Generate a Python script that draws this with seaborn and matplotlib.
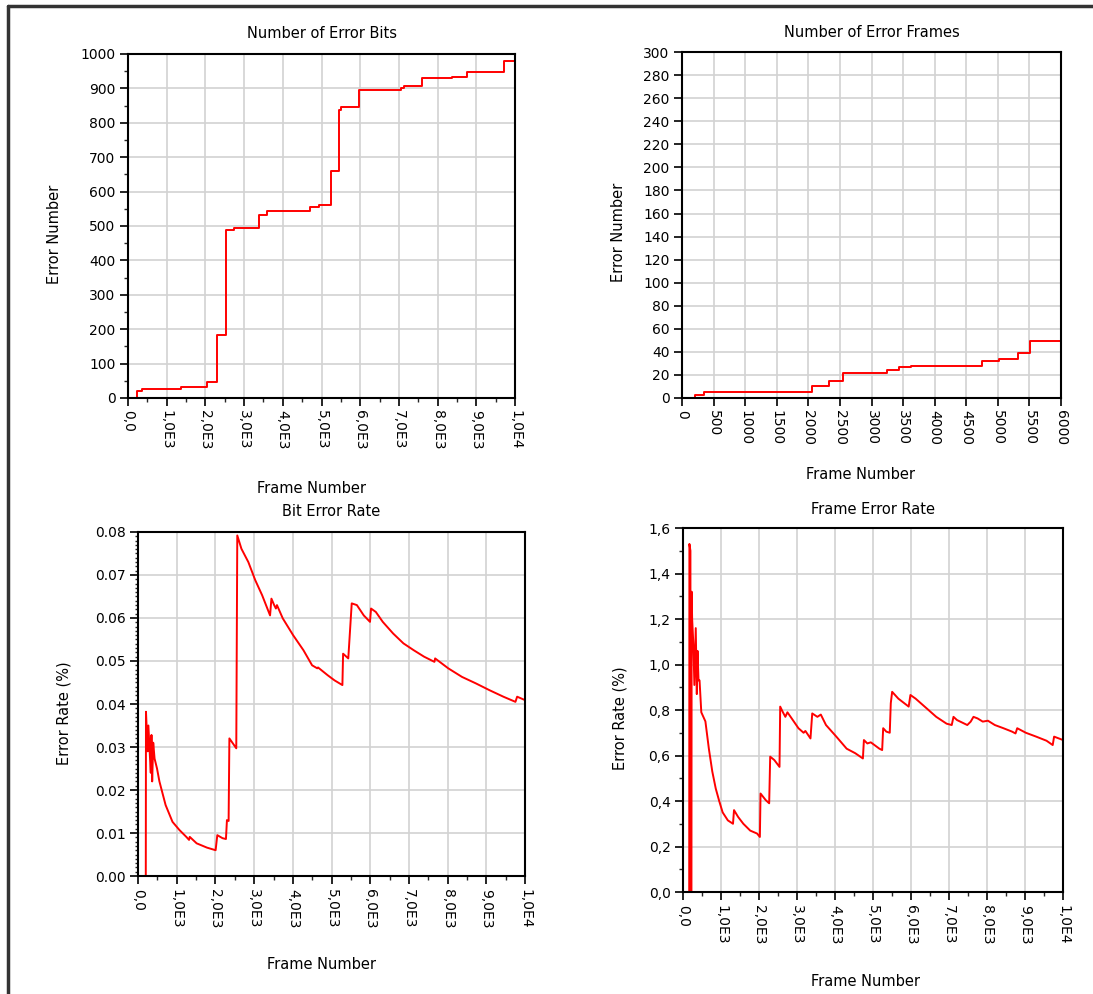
import matplotlib
matplotlib.use("Agg")
import matplotlib.pyplot as plt
import seaborn as sns
from matplotlib.lines import Line2D
from matplotlib.ticker import FixedLocator, FixedFormatter, MultipleLocator

# Data
# cumulative error bits (step curve)
bits_frame = [0, 220, 350, 1365, 2030, 2310, 2540, 2730, 3390, 3590, 4710, 4930,
              5240, 5445, 5500, 5965, 7050, 7140, 7600, 8370, 8770, 9710, 9970]
bits_count = [0, 19, 26, 31, 46, 184, 488, 493, 533, 544, 556, 562,
              659, 836, 845, 896, 901, 907, 929, 934, 949, 981, 981]

# cumulative error frames (step curve)
frames_frame = [0, 212, 350, 2050, 2330, 2555, 3250, 3435, 3630, 4755, 5010, 5315, 5510, 6000]
frames_count = [0, 3, 5, 10, 15, 22, 24, 27, 28, 32, 34, 39, 49, 49]

# bit error rate (%)
ber_frame = [0, 200, 205, 249, 267, 303, 329, 347, 365, 392, 427, 490, 552, 712, 890,
             1069, 1247, 1318, 1336, 1514, 1781, 2004, 2048, 2182, 2271, 2297, 2340,
             2360, 2538, 2564, 2671, 2850, 3028, 3206, 3411, 3446, 3517, 3562, 3589,
             3740, 4007, 4274, 4497, 4630, 4650, 4898, 5076, 5280, 5298, 5432, 5521,
             5654, 5832, 5993, 6020, 6144, 6323, 6590, 6857, 7124, 7391, 7658, 7676,
             8014, 8370, 8727, 9083, 9439, 9751, 9795, 10000]
ber_rate = [0, 0, 0.0382, 0.029, 0.035, 0.0285, 0.024, 0.0328, 0.022, 0.031, 0.0273,
            0.025, 0.022, 0.0165, 0.0126, 0.0107, 0.0091, 0.0084, 0.0091, 0.0076,
            0.0066, 0.0060, 0.0095, 0.0088, 0.0086, 0.013, 0.0128, 0.032, 0.0297,
            0.0792, 0.0761, 0.073, 0.0688, 0.0653, 0.0606, 0.0645, 0.063, 0.0622,
            0.063, 0.0599, 0.056, 0.0525, 0.049, 0.0483, 0.0485, 0.0467, 0.0455,
            0.0444, 0.0517, 0.0506, 0.0634, 0.063, 0.0606, 0.0591, 0.0622, 0.0614,
            0.0591, 0.0564, 0.0541, 0.0525, 0.051, 0.0498, 0.0506, 0.0483, 0.0463,
            0.0448, 0.0432, 0.0417, 0.0405, 0.0417, 0.0409]

# frame error rate (%)
fer_frame = [0, 163, 168, 195, 199, 222, 227, 240, 272, 299, 335, 363, 381, 408, 435,
             481, 589, 680, 770, 861, 952, 1043, 1179, 1315, 1342, 1450, 1587, 1768,
             1949, 2022, 2040, 2176, 2267, 2294, 2403, 2539, 2557, 2629, 2693, 2747,
             2856, 3037, 3173, 3220, 3354, 3400, 3536, 3626, 3762, 4034, 4306, 4533,
             4733, 4760, 4850, 4941, 5167, 5240, 5267, 5349, 5440, 5467, 5503, 5666,
             5938, 5984, 6120, 6392, 6663, 6935, 7071, 7117, 7208, 7480, 7570, 7643,
             7751, 7887, 8023, 8205, 8431, 8658, 8749, 8794, 9021, 9293, 9565, 9728,
             9764, 10000]
fer_rate = [0, 0, 1.53, 1.50, 0, 0, 1.32, 1.20, 1.09, 0.91, 1.16, 0.87, 1.06, 0.93, 0.93,
            0.79, 0.75, 0.63, 0.53, 0.455, 0.40, 0.35, 0.315, 0.30, 0.36, 0.33, 0.30, 0.27,
            0.257, 0.242, 0.433, 0.404, 0.39, 0.595, 0.58, 0.55, 0.815, 0.79, 0.77, 0.79,
            0.764, 0.72, 0.70, 0.708, 0.675, 0.785, 0.77, 0.78, 0.734, 0.683, 0.63, 0.61,
            0.587, 0.668, 0.653, 0.658, 0.63, 0.624, 0.72, 0.705, 0.70, 0.83, 0.88, 0.85,
            0.815, 0.866, 0.85, 0.81, 0.77, 0.74, 0.734, 0.77, 0.756, 0.734, 0.749, 0.77,
            0.763, 0.749, 0.753, 0.734, 0.72, 0.705, 0.697, 0.72, 0.70, 0.683, 0.665, 0.646,
            0.683, 0.668]

# tick values and labels
e4_ticks = [0, 1000, 2000, 3000, 4000, 5000, 6000, 7000, 8000, 9000, 10000]
e4_labels = ["0,0", "1,0E3", "2,0E3", "3,0E3", "4,0E3", "5,0E3",
             "6,0E3", "7,0E3", "8,0E3", "9,0E3", "1,0E4"]
frames_xticks = [0, 500, 1000, 1500, 2000, 2500, 3000, 3500, 4000, 4500, 5000, 5500, 6000]
bits_yticks = [0, 100, 200, 300, 400, 500, 600, 700, 800, 900, 1000]
frames_yticks = [0, 20, 40, 60, 80, 100, 120, 140, 160, 180, 200, 220, 240, 260, 280, 300]
ber_yticks = [0, 0.01, 0.02, 0.03, 0.04, 0.05, 0.06, 0.07, 0.08]
ber_ylabels = ["0.00", "0.01", "0.02", "0.03", "0.04", "0.05", "0.06", "0.07", "0.08"]
fer_yticks = [0, 0.2, 0.4, 0.6, 0.8, 1.0, 1.2, 1.4, 1.6]
fer_ylabels = ["0,0", "0,2", "0,4", "0,6", "0,8", "1,0", "1,2", "1,4", "1,6"]

sns.set_theme(style="white")
plt.rcParams['font.family'] = ['DejaVu Sans']
plt.rcParams['text.color'] = 'black'
plt.rcParams['axes.labelcolor'] = 'black'
plt.rcParams['axes.titlecolor'] = 'black'

fig = plt.figure(figsize=(10.93, 9.94), dpi=100)

# frame-like border on the left and top edge
fig.add_artist(Line2D([0.0073, 0.0073], [0, 0.994], color='#333333', lw=2.5))
fig.add_artist(Line2D([0.0073, 1.0], [0.994, 0.994], color='#333333', lw=2.5))

ax1 = fig.add_axes([0.1171, 0.5996, 0.3541, 0.3461])
ax2 = fig.add_axes([0.6240, 0.5996, 0.3468, 0.3480])
ax3 = fig.add_axes([0.1263, 0.1187, 0.3541, 0.3461])
ax4 = fig.add_axes([0.6249, 0.1026, 0.3477, 0.3662])

red = '#ff0000'
sns.lineplot(x=bits_frame, y=bits_count, ax=ax1, color=red, linewidth=1.4,
             estimator=None, sort=False, drawstyle='steps-post')
sns.lineplot(x=frames_frame, y=frames_count, ax=ax2, color=red, linewidth=1.4,
             estimator=None, sort=False, drawstyle='steps-post')
sns.lineplot(x=ber_frame, y=ber_rate, ax=ax3, color=red, linewidth=1.4,
             estimator=None, sort=False)
sns.lineplot(x=fer_frame, y=fer_rate, ax=ax4, color=red, linewidth=1.4,
             estimator=None, sort=False)


def style_axes(ax, title, ylabel, pad, xlab_pos, ylab_pos):
    ax.set_title(title, fontsize=10.5, pad=pad)
    ax.set_xlabel("Frame Number", fontsize=10.5)
    ax.set_ylabel(ylabel, fontsize=10.5)
    ax.xaxis.set_label_coords(*xlab_pos)
    ax.yaxis.set_label_coords(*ylab_pos)
    ax.grid(True, which='major', color='#d2d2d2', linewidth=1.2)
    ax.set_axisbelow(True)
    for s in ax.spines.values():
        s.set_color('black')
        s.set_linewidth(1.5)
    ax.tick_params(which='major', direction='out', length=6, width=1.2,
                   labelsize=10, pad=3, colors='black', left=True, bottom=True)
    ax.tick_params(which='minor', direction='out', length=3, width=1.0,
                   left=True, bottom=True)
    for lab in ax.get_xticklabels():
        lab.set_rotation(270)


# Number of Error Bits
ax1.set_xlim(0, 10000)
ax1.set_ylim(0, 1000)
ax1.xaxis.set_major_locator(FixedLocator(e4_ticks))
ax1.xaxis.set_major_formatter(FixedFormatter(e4_labels))
ax1.xaxis.set_minor_locator(MultipleLocator(500))
ax1.set_yticks(bits_yticks)
ax1.yaxis.set_minor_locator(MultipleLocator(50))
style_axes(ax1, "Number of Error Bits", "Error Number", 11.5, (0.475, -0.24), (-0.17, 0.477))

# Number of Error Frames
ax2.set_xlim(0, 6000)
ax2.set_ylim(0, 300)
ax2.set_xticks(frames_xticks)
ax2.set_yticks(frames_yticks)
style_axes(ax2, "Number of Error Frames", "Error Number", 11, (0.47, -0.20), (-0.148, 0.48))

# Bit Error Rate
ax3.set_xlim(0, 10000)
ax3.set_ylim(0, 0.08)
ax3.xaxis.set_major_locator(FixedLocator(e4_ticks))
ax3.xaxis.set_major_formatter(FixedFormatter(e4_labels))
ax3.xaxis.set_minor_locator(MultipleLocator(500))
ax3.yaxis.set_major_locator(FixedLocator(ber_yticks))
ax3.yaxis.set_major_formatter(FixedFormatter(ber_ylabels))
ax3.yaxis.set_minor_locator(MultipleLocator(0.001))
style_axes(ax3, "Bit Error Rate", "Error Rate (%)", 11.5, (0.475, -0.235), (-0.173, 0.474))
ax3.tick_params(which='minor', axis='y', length=2)

# Frame Error Rate
ax4.set_xlim(0, 10000)
ax4.set_ylim(0, 1.6)
ax4.xaxis.set_major_locator(FixedLocator(e4_ticks))
ax4.xaxis.set_major_formatter(FixedFormatter(e4_labels))
ax4.xaxis.set_minor_locator(MultipleLocator(500))
ax4.yaxis.set_major_locator(FixedLocator(fer_yticks))
ax4.yaxis.set_major_formatter(FixedFormatter(fer_ylabels))
ax4.yaxis.set_minor_locator(MultipleLocator(0.1))
style_axes(ax4, "Frame Error Rate", "Error Rate (%)", 10, (0.479, -0.225), (-0.145, 0.478))

plt.savefig("out.png", dpi=100)
